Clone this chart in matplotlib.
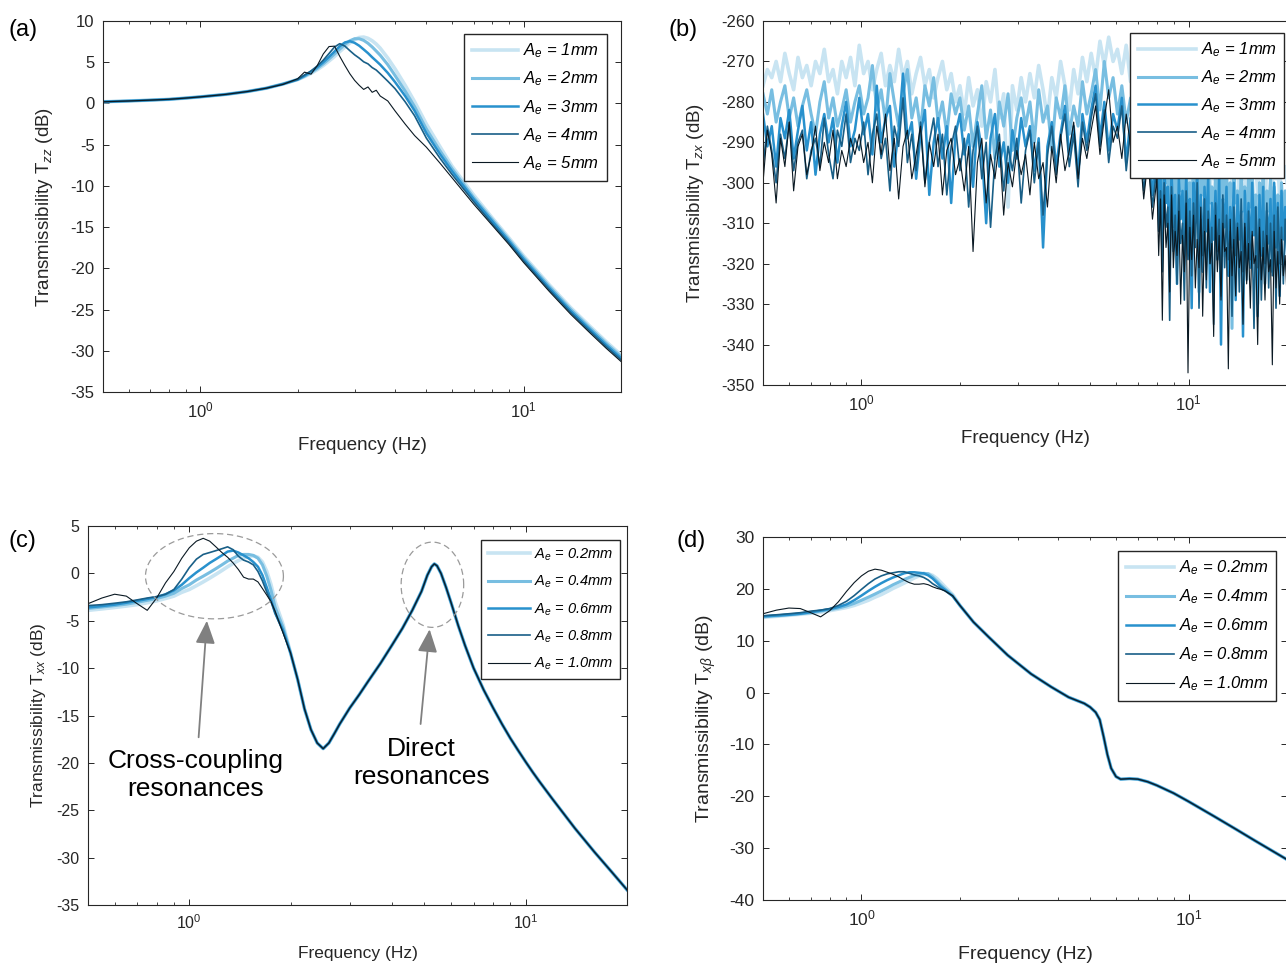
import numpy as np
import matplotlib
matplotlib.use("Agg")
import matplotlib.pyplot as plt
from matplotlib.ticker import LogLocator, NullFormatter, MultipleLocator

plt.rcParams['font.family'] = ['Liberation Sans', 'DejaVu Sans']
plt.rcParams['mathtext.fontset'] = 'custom'
plt.rcParams['mathtext.rm'] = 'Liberation Sans'
plt.rcParams['mathtext.it'] = 'Liberation Sans:italic'
plt.rcParams['mathtext.bf'] = 'Liberation Sans:bold'
plt.rcParams['axes.unicode_minus'] = False

W, H = 1286, 965

# ---------------- data ----------------
colors = ['#c8e4f2', '#78bee1', '#2891cd', '#195f87', '#0a1923']
widths = [2.6, 2.2, 1.8, 1.2, 0.8]

labels_mm = ['1mm', '2mm', '3mm', '4mm', '5mm']
labels_sub = ['0.2mm', '0.4mm', '0.6mm', '0.8mm', '1.0mm']

# (a) T_zz
fa = [0.5, 0.6, 0.7, 0.8, 0.9, 1.0, 1.2, 1.4, 1.6, 1.8, 2.0, 2.1, 2.2, 2.3, 2.4,
      2.5, 2.6, 2.7, 2.8, 2.9, 3.0, 3.1, 3.2, 3.3, 3.4, 3.5, 3.6, 3.8, 4.0, 4.3,
      4.6, 5.0, 5.5, 6.0, 7.0, 8.0, 9.0, 10, 12, 14, 16, 18, 20]
tzz_1 = [0.2, 0.3, 0.4, 0.5, 0.65, 0.8, 1.1, 1.45, 1.85, 2.35, 2.9, 3.25, 3.65, 4.1, 4.6,
         5.15, 5.7, 6.3, 6.85, 7.35, 7.75, 8.0, 8.05, 7.9, 7.6, 7.2, 6.7, 5.5, 4.2, 2.2,
         0.2, -2.5, -5.2, -7.6, -11.1, -13.9, -16.3, -18.5, -22.0, -24.8, -27.0, -28.9, -30.5]
tzz_2 = [0.2, 0.3, 0.4, 0.5, 0.65, 0.8, 1.1, 1.45, 1.85, 2.35, 2.9, 3.3, 3.75, 4.25, 4.8,
         5.4, 6.0, 6.6, 7.15, 7.6, 7.85, 7.85, 7.65, 7.3, 6.85, 6.35, 5.85, 4.7, 3.4, 1.5,
         -0.4, -3.1, -5.7, -7.9, -11.4, -14.1, -16.5, -18.7, -22.2, -25.0, -27.2, -29.1, -30.7]
tzz_3 = [0.2, 0.3, 0.4, 0.5, 0.65, 0.8, 1.1, 1.45, 1.85, 2.35, 2.9, 3.35, 3.85, 4.4, 5.0,
         5.65, 6.3, 6.95, 7.4, 7.55, 7.35, 7.0, 6.55, 6.1, 5.6, 5.15, 4.7, 3.7, 2.6, 0.9,
         -0.9, -3.6, -6.1, -8.2, -11.6, -14.3, -16.7, -18.9, -22.4, -25.2, -27.4, -29.3, -30.9]
tzz_4 = [0.2, 0.3, 0.4, 0.5, 0.65, 0.8, 1.1, 1.45, 1.85, 2.35, 2.9, 3.45, 3.95, 4.55, 5.25,
         6.05, 6.85, 7.25, 6.95, 6.4, 5.9, 5.5, 5.05, 4.8, 4.35, 4.05, 3.6, 2.7, 1.8, 0.2,
         -1.5, -4.2, -6.6, -8.6, -11.9, -14.6, -16.9, -19.1, -22.6, -25.4, -27.6, -29.5, -31.1]
tzz_5 = [0.2, 0.3, 0.4, 0.5, 0.65, 0.8, 1.1, 1.45, 1.85, 2.3, 3.0, 3.8, 3.55, 4.6, 6.0,
         6.9, 6.95, 5.7, 4.6, 3.6, 2.8, 2.2, 1.7, 2.0, 1.35, 1.6, 0.9, 0.3, -0.9, -2.5,
         -3.9, -5.3, -7.2, -9.0, -12.2, -14.8, -17.1, -19.3, -22.8, -25.6, -27.8, -29.7, -31.3]

# (b) T_zx: 90 samples from 0.5 to 8 Hz, then 72 samples from 8 to 20 Hz
fb = np.concatenate([np.geomspace(0.5, 8, 90, endpoint=False), np.geomspace(8, 20, 72)])
tzx_1 = [-276, -272, -274, -270, -275, -268, -273, -277, -269, -274, -271, -276, -270, -273, -267, -275,
         -272, -278, -270, -274, -269, -276,
         -266, -273, -270, -277, -272, -268, -276, -271, -275, -267, -274, -270, -278, -273, -269, -276,
         -272, -279, -274, -270, -277, -273, -280,
         -276, -283, -274, -281, -277, -286, -275, -280, -272, -284, -278, -306, -276, -282, -274,
         -280, -273, -279, -271, -277, -284, -274, -279, -270, -276, -282, -272, -278, -269, -275,
         -268, -274, -265, -271, -264, -270, -267, -273, -266, -275,
         -272, -279, -274, -282, -276,
         -284, -293, -286, -297, -285, -294, -289, -299, -285, -297, -290, -303, -288, -295, -292, -301,
         -287, -298, -293, -306, -289, -296, -291, -300, -288, -311, -292, -297, -290, -302, -294, -299,
         -289, -304, -291, -296, -293, -318, -290, -298, -292, -301, -289, -297, -294, -306, -291, -299,
         -293, -324, -292, -300, -290, -297, -295, -303, -291, -299, -294, -309, -292, -298, -296, -301,
         -293, -299, -295, -304, -292, -298, -296, -300]
tzx_2 = [-278, -283, -277, -285, -280, -276, -284, -279, -286, -281, -277, -283, -288, -280, -275, -284,
         -279, -286, -282, -277, -285, -280,
         -276, -283, -279, -271, -282, -277, -285, -273, -280, -286, -278, -272, -284, -279, -287, -276,
         -281, -274, -285, -280, -288, -278, -283,
         -279, -287, -281, -291, -283, -276, -289, -282, -294, -280, -286, -278, -292, -284, -279,
         -286, -280, -290, -277, -285, -281, -292, -279, -284, -276, -288, -281, -286, -275, -283,
         -278, -272, -282, -270, -279, -274, -283, -276, -285, -279,
         -287, -280, -290, -283, -292,
         -290, -301, -295, -308, -291, -300, -297, -312, -293, -305, -299, -310, -294, -302, -298, -316,
         -295, -306, -300, -311, -293, -304, -297, -327, -296, -303, -299, -309, -294, -305, -301, -314,
         -297, -306, -295, -319, -299, -304, -296, -311, -300, -336, -298, -305, -302, -313, -297, -307,
         -301, -318, -299, -306, -296, -312, -303, -330, -300, -308, -298, -315, -302, -307, -299, -313,
         -301, -309, -303, -320, -300, -310, -302, -308]
tzx_3 = [-283, -291, -286, -296, -284, -289, -282, -294, -287, -281, -292, -285, -298, -288, -283, -290,
         -284, -295, -286, -280, -291, -287,
         -279, -288, -283, -293, -276, -290, -284, -281, -296, -287, -273, -289, -285, -299, -288, -282,
         -303, -290, -284, -294, -286, -305, -288,
         -283, -293, -288, -301, -285, -292, -310, -289, -283, -296, -290, -300, -287, -294, -284,
         -291, -286, -297, -289, -316, -291, -285, -296, -288, -281, -293, -286, -298, -283, -290,
         -282, -276, -289, -280, -292, -283, -287, -279, -295, -284,
         -292, -286, -299, -290, -303,
         -292, -306, -298, -316, -296, -305, -301, -320, -297, -311, -303, -325, -299, -309, -302, -318,
         -298, -313, -304, -331, -300, -310, -297, -317, -303, -322, -301, -312, -299, -327, -305, -314,
         -302, -319, -298, -340, -304, -311, -301, -323, -306, -316, -300, -329, -303, -314, -307, -338,
         -302, -317, -305, -321, -300, -313, -306, -333, -303, -318, -301, -325, -307, -315, -304, -322,
         -300, -316, -305, -328, -302, -314, -306, -318]
tzx_4 = [-296, -286, -292, -300, -288, -294, -285, -297, -290, -287, -299, -292, -289, -296, -284, -293,
         -299, -287, -291, -283, -295, -289,
         -292, -285, -298, -288, -283, -294, -289, -302, -286, -291, -279, -295, -288, -297, -285, -300,
         -290, -284, -296, -288, -303, -291, -286,
         -297, -289, -306, -292, -286, -299, -290, -311, -294, -288, -302, -291, -297, -289, -305,
         -292, -287, -300, -290, -308, -293, -286, -298, -289, -283, -296, -288, -301, -285, -292,
         -284, -278, -291, -282, -295, -286, -289, -281, -297, -287,
         -294, -288, -302, -293, -306,
         -296, -312, -302, -322, -300, -311, -306, -334, -301, -317, -308, -325, -303, -315, -310, -329,
         -302, -319, -307, -323, -305, -316, -300, -331, -309, -318, -304, -326, -307, -320, -311, -335,
         -305, -317, -309, -328, -303, -321, -308, -319, -312, -333, -306, -318, -310, -327, -304, -322,
         -311, -324, -307, -319, -313, -336, -306, -321, -309, -329, -312, -320, -305, -326, -310, -323,
         -308, -331, -306, -320, -311, -325, -309, -318]
tzx_5 = [-300, -287, -293, -305, -289, -296, -285, -302, -291, -288, -298, -293, -286, -297, -290, -295,
         -287, -299, -292, -296, -289, -293,
         -288, -295, -290, -300, -286, -293, -283, -297, -289, -304, -291, -287, -299, -293, -286, -301,
         -290, -296, -288, -303, -292, -289, -298,
         -294, -302, -291, -317, -295, -289, -305, -293, -299, -290, -308, -295, -301, -292, -298,
         -293, -303, -290, -299, -295, -306, -291, -300, -288, -297, -292, -285, -299, -289, -294,
         -287, -281, -293, -284, -277, -290, -286, -294, -283, -291,
         -296, -290, -304, -294, -309,
         -299, -318, -304, -334, -303, -316, -310, -327, -303, -321, -312, -318, -307, -330, -313, -322,
         -305, -347, -311, -319, -308, -326, -314, -321, -306, -333, -312, -324, -309, -320, -315, -338,
         -308, -322, -313, -329, -310, -317, -316, -346, -309, -323, -314, -328, -311, -321, -317, -335,
         -310, -325, -315, -331, -312, -320, -318, -340, -311, -324, -316, -329, -313, -322, -319, -345,
         -312, -326, -317, -330, -314, -323, -318, -328]

# (c) T_xx
fc = [0.5, 0.55, 0.6, 0.65, 0.7, 0.75, 0.8, 0.85, 0.9, 0.95, 1.0, 1.05, 1.1, 1.15, 1.2,
      1.25, 1.3, 1.35, 1.4, 1.45, 1.5, 1.55, 1.6, 1.65, 1.7, 1.75, 1.8, 1.9, 2.0, 2.1,
      2.2, 2.3, 2.4, 2.5, 2.6, 2.7, 2.8, 3.0, 3.2, 3.4, 3.7, 4.0, 4.3, 4.6, 4.9,
      5.1, 5.25, 5.35, 5.45, 5.6, 5.8, 6.0, 6.3, 6.6, 7.0, 7.5, 8.0, 8.5, 9.0, 9.5,
      10, 10.5, 11, 12, 14, 16, 18, 20]
txx_tail = [-8.4, -11.2, -14.3, -16.5, -17.9, -18.5, -17.9, -16.9, -15.9, -14.2, -12.8, -11.4,
            -9.5, -7.6, -5.8, -3.9, -1.9, -0.2, 0.7, 1.0, 0.8, 0.0, -1.5, -3.1, -5.5, -7.6,
            -10.0, -12.3, -14.2, -15.9, -17.4, -18.7, -19.9, -21.0, -22.0, -23.8, -26.9, -29.4,
            -31.5, -33.4]
txx_1 = [-3.9, -3.75, -3.6, -3.45, -3.3, -3.1, -2.9, -2.65, -2.4, -2.0, -1.7, -1.3, -0.9, -0.5, -0.1,
         0.3, 0.7, 1.05, 1.35, 1.6, 1.8, 1.85, 1.7, 1.2, 0.2, -1.2, -3.0, -5.4] + txx_tail
txx_2 = [-3.7, -3.55, -3.4, -3.25, -3.05, -2.85, -2.65, -2.4, -2.1, -1.6, -1.2, -0.7, -0.3, 0.1, 0.5,
         0.9, 1.3, 1.6, 1.9, 2.0, 2.0, 1.9, 1.6, 0.9, -0.3, -1.8, -3.6, -5.7] + txx_tail
txx_3 = [-3.6, -3.45, -3.3, -3.1, -2.9, -2.7, -2.5, -2.2, -1.8, -1.2, -0.5, 0.1, 0.6, 1.1, 1.5,
         1.9, 2.3, 2.4, 2.2, 1.9, 1.6, 1.2, 0.7, -0.2, -1.5, -2.8, -4.2, -6.0] + txx_tail
txx_4 = [-3.4, -3.3, -3.15, -3.0, -2.8, -2.6, -2.45, -2.2, -1.7, -0.6, 0.6, 1.5, 2.0, 2.2, 2.4,
         2.6, 2.8, 2.5, 1.8, 1.4, 1.2, 0.9, 0.2, -0.8, -2.0, -3.0, -4.2, -6.2] + txx_tail
txx_5 = [-3.2, -2.6, -2.2, -2.4, -3.2, -3.9, -2.6, -1.0, 0.2, 1.6, 2.7, 3.4, 3.7, 3.4, 2.8,
         2.2, 1.7, 1.1, 0.4, -0.4, -0.6, -0.6, -0.9, -1.6, -2.3, -3.0, -4.0, -6.3] + txx_tail

# (d) T_xbeta
fd = [0.5, 0.55, 0.6, 0.65, 0.7, 0.75, 0.8, 0.85, 0.9, 0.95, 1.0, 1.05, 1.1, 1.15, 1.2,
      1.25, 1.3, 1.35, 1.4, 1.45, 1.5, 1.55, 1.6, 1.65, 1.7, 1.75, 1.8, 1.9, 2.0, 2.2,
      2.45, 2.8, 3.3, 3.8, 4.3, 4.8, 5.0, 5.2, 5.35, 5.5, 5.65, 5.8, 6.0, 6.2, 6.6,
      7.0, 7.5, 8, 9, 10, 12, 14, 16, 18, 20]
txb_tail = [16.8, 13.6, 10.7, 7.2, 3.6, 1.1, -0.9, -2.1, -2.8, -3.8, -5.2, -8.5, -12.0, -14.6,
            -16.2, -16.7, -16.6, -16.7, -17.2, -17.9, -19.4, -21.0, -23.9, -26.4, -28.6, -30.5, -32.2]
txb_1 = [14.5, 14.7, 14.9, 15.1, 15.3, 15.5, 15.8, 16.1, 16.4, 16.8, 17.3, 17.8, 18.4, 18.9, 19.5,
         20.1, 20.6, 21.1, 21.6, 22.1, 22.5, 22.8, 22.9, 22.6, 22.0, 21.2, 20.4, 18.9] + txb_tail
txb_2 = [14.6, 14.8, 15.0, 15.2, 15.4, 15.7, 16.0, 16.3, 16.7, 17.2, 17.8, 18.4, 19.0, 19.6, 20.2,
         20.8, 21.3, 21.8, 22.2, 22.6, 22.8, 23.0, 22.9, 22.3, 21.5, 20.7, 20.0, 18.7] + txb_tail
txb_3 = [14.7, 14.85, 15.0, 15.2, 15.5, 15.8, 16.1, 16.5, 17.0, 17.8, 18.7, 19.6, 20.4, 21.1, 21.7,
         22.2, 22.6, 23.0, 23.2, 23.2, 23.1, 23.0, 22.6, 22.0, 21.2, 20.4, 19.8, 18.6] + txb_tail
txb_4 = [14.8, 15.0, 15.2, 15.4, 15.7, 15.9, 16.2, 16.8, 17.6, 18.7, 19.9, 21.0, 21.9, 22.5, 22.9,
         23.1, 23.3, 23.3, 23.0, 22.7, 22.5, 22.2, 21.7, 21.0, 20.5, 20.0, 19.6, 18.6] + txb_tail
txb_5 = [15.2, 15.9, 16.3, 16.2, 15.4, 14.6, 15.8, 17.5, 19.5, 21.2, 22.5, 23.4, 23.8, 23.6, 23.2,
         22.8, 22.3, 21.7, 21.2, 20.9, 20.9, 21.0, 20.8, 20.4, 20.1, 19.9, 19.6, 18.7] + txb_tail


def px_rect(l, t, r, b):
    return [l / W, 1 - b / H, (r - l) / W, (b - t) / H]


def style(ax, ylim, ystep, fs):
    ax.set_xscale('log')
    ax.set_xlim(0.5, 20)
    ax.set_ylim(*ylim)
    ax.yaxis.set_major_locator(MultipleLocator(ystep))
    ax.xaxis.set_major_locator(LogLocator(base=10, numticks=10))
    ax.xaxis.set_minor_locator(LogLocator(base=10, subs=np.arange(2, 10), numticks=20))
    ax.xaxis.set_minor_formatter(NullFormatter())
    ax.tick_params(which='both', direction='in', top=True, right=True, color='#262626',
                   labelsize=fs, labelcolor='#262626')
    ax.tick_params(which='major', length=4.5, width=0.7, pad=6)
    ax.tick_params(which='minor', length=2.5, width=0.6)
    for s in ax.spines.values():
        s.set_color('#262626')
        s.set_linewidth(0.8)


def legend(ax, labels, l, t, fs, hl, ls):
    ax.legend(labels, loc='upper left', bbox_to_anchor=(l / W, 1 - t / H),
              bbox_transform=fig.transFigure, borderaxespad=0, fancybox=False,
              framealpha=1, edgecolor='#262626', prop={'style': 'italic', 'size': fs},
              handlelength=hl, handletextpad=0.3, labelspacing=ls, borderpad=0.45)


fig = plt.figure(figsize=(W / 100, H / 100), dpi=100)

# (a)
ax = fig.add_axes(px_rect(103, 21, 621, 392))
for y, c, lw in zip([tzz_1, tzz_2, tzz_3, tzz_4, tzz_5], colors, widths):
    ax.plot(fa, y, color=c, lw=lw)
style(ax, (-35, 10), 5, 12)
legend(ax, [r'$A_e$ = ' + s for s in labels_mm], 464, 34, 12, 2.8, 0.57)
ax.set_xlabel('Frequency (Hz)', fontsize=13.5, color='#262626', labelpad=12)
ax.set_ylabel(r'Transmissibility T$_{zz}$ (dB)', fontsize=13.5, color='#262626', labelpad=11)
fig.text(8 / W, 1 - 30 / H, '(a)', fontsize=17, va='center')

# (b)
ax = fig.add_axes(px_rect(763, 21, 1287, 385))
for y, c, lw in zip([tzx_1, tzx_2, tzx_3, tzx_4, tzx_5], colors, widths):
    ax.plot(fb, y, color=c, lw=lw)
style(ax, (-350, -260), 10, 12)
legend(ax, [r'$A_e$ = ' + s for s in labels_mm], 1130, 33, 12, 3.5, 0.55)
ax.set_xlabel('Frequency (Hz)', fontsize=13.5, color='#262626', labelpad=12)
ax.set_ylabel(r'Transmissibility T$_{zx}$ (dB)', fontsize=13.5, color='#262626', labelpad=11)
fig.text(668 / W, 1 - 30 / H, '(b)', fontsize=17, va='center')

# (c)
ax = fig.add_axes(px_rect(88, 526, 627, 905))
for y, c, lw in zip([txx_1, txx_2, txx_3, txx_4, txx_5], colors, widths):
    ax.plot(fc, y, color=c, lw=lw)
style(ax, (-35, 5), 5, 11.5)
legend(ax, [r'$A_e$ = ' + s for s in labels_sub], 481, 540, 10.5, 2.9, 0.75)
ax.set_xlabel('Frequency (Hz)', fontsize=12.5, color='#262626', labelpad=10)
ax.set_ylabel(r'Transmissibility T$_{xx}$ (dB)', fontsize=12.5, color='#262626', labelpad=6)
fig.text(8 / W, 1 - 541 / H, '(c)', fontsize=17, va='center')

# dashed ellipses around resonances (log-x centre, half widths in decades)
t = np.linspace(0, 2 * np.pi, 200)
for lc, a, yc, b in [(np.log10(1.188), 0.205, -0.3, 4.5), (np.log10(5.28), 0.093, -1.2, 4.5)]:
    ax.plot(10 ** (lc + a * np.cos(t)), yc + b * np.sin(t), color='#9a9a9a', lw=0.9,
            ls=(0, (5, 3)))
arrow = dict(arrowstyle='-|>,head_width=0.3,head_length=0.7', color='#808080', lw=1.3,
             mutation_scale=20, shrinkA=0, shrinkB=0)
ax.annotate('', xy=(1.128, -5.0), xytext=(1.066, -17.3), arrowprops=arrow)
ax.annotate('', xy=(5.18, -5.9), xytext=(4.87, -15.9), arrowprops=arrow)
ax.text(1.046, -21.3, 'Cross-coupling\nresonances', fontsize=19, ha='center', va='center',
        linespacing=1.2)
ax.text(4.9, -20.0, 'Direct\nresonances', fontsize=19, ha='center', va='center',
        linespacing=1.2)

# (d)
ax = fig.add_axes(px_rect(763, 537, 1287, 900))
for y, c, lw in zip([txb_1, txb_2, txb_3, txb_4, txb_5], colors, widths):
    ax.plot(fd, y, color=c, lw=lw)
style(ax, (-40, 30), 10, 12.5)
legend(ax, [r'$A_e$ = ' + s for s in labels_sub], 1118, 551, 12, 2.9, 0.62)
ax.set_xlabel('Frequency (Hz)', fontsize=14, color='#262626', labelpad=13)
ax.set_ylabel(r'Transmissibility T$_{x\beta}$ (dB)', fontsize=14, color='#262626', labelpad=8)
fig.text(676 / W, 1 - 541 / H, '(d)', fontsize=17, va='center')

fig.savefig('out.png', dpi=100)
